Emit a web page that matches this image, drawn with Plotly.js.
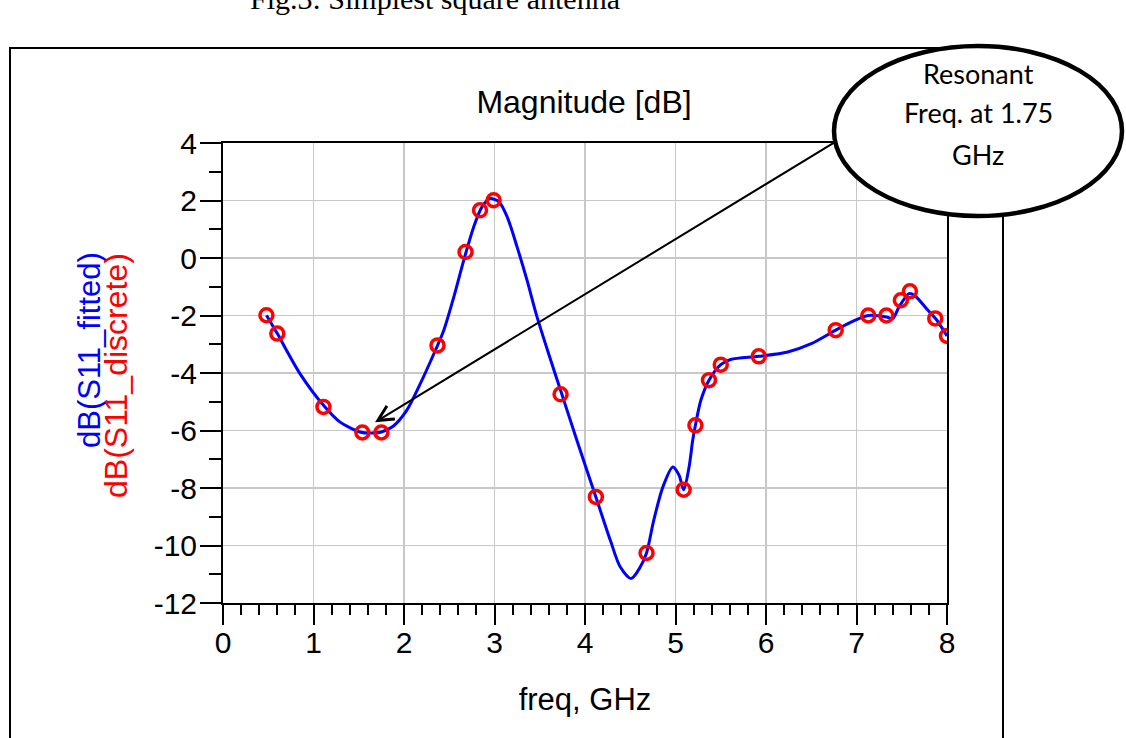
<!DOCTYPE html>
<html>
<head>
<meta charset="utf-8">
<script src="https://cdn.plot.ly/plotly-3.0.1.min.js"></script>
<style>
html,body{margin:0;padding:0;background:#fff;}
#chart{width:1126px;height:738px;}
</style>
</head>
<body>
<div id="chart"></div>
<script>
// ---- data ----
const fittedFreq = [0.48,0.6,0.85,1.12,1.29,1.51,1.64,1.75,1.88,2.03,2.18,2.33,2.44,2.55,2.66,2.77,2.86,2.95,3.05,3.14,3.25,3.36,3.47,3.6,3.73,3.91,4.12,4.28,4.39,4.51,4.61,4.68,4.76,4.86,4.97,5.04,5.09,5.15,5.19,5.22,5.28,5.37,5.5,5.61,5.92,6.24,6.5,6.77,6.98,7.13,7.33,7.4,7.47,7.58,7.64,7.79,7.88,8.0];
const fittedDB   = [-1.99,-2.63,-4.02,-5.16,-5.70,-6.05,-6.09,-6.05,-5.85,-5.30,-4.37,-3.33,-2.51,-1.36,-0.08,1.08,1.77,2.07,1.95,1.43,0.38,-0.78,-2.05,-3.35,-4.6,-6.34,-8.31,-9.82,-10.75,-11.15,-10.75,-10.26,-9.12,-7.97,-7.27,-7.56,-8.06,-7.27,-6.34,-5.82,-4.95,-4.25,-3.71,-3.53,-3.42,-3.27,-2.98,-2.51,-2.17,-2.0,-2.05,-2.11,-1.70,-1.24,-1.30,-1.82,-2.13,-2.71];
const discreteFreq = [0.48,0.6,1.11,1.54,1.75,2.37,2.68,2.84,2.99,3.73,4.12,4.68,5.09,5.22,5.37,5.5,5.92,6.77,7.13,7.33,7.49,7.59,7.87,8.0];
const discreteDB   = [-1.99,-2.63,-5.18,-6.07,-6.07,-3.04,0.21,1.66,2.01,-4.74,-8.31,-10.26,-8.06,-5.82,-4.25,-3.71,-3.42,-2.51,-2.0,-2.0,-1.47,-1.16,-2.1,-2.71];
const xTicks = [0,1,2,3,4,5,6,7,8];
const xTickText = ['0','1','2','3','4','5','6','7','8'];
const yTicks = [4,2,0,-2,-4,-6,-8,-10,-12];
const yTickText = ['4','2','0','-2','-4','-6','-8','-10','-12'];
const chartTitle = 'Magnitude [dB]';
const xTitle = 'freq, GHz';
const yTitleFitted = 'dB(S11_fitted)';
const yTitleDiscrete = 'dB(S11_discrete)';
const caption = 'Fig.3: Simplest square antenna';
const calloutLines = ['Resonant','Freq. at 1.75','GHz'];
const arrowTarget = {x:1.68, y:-5.71};

// ---- layout helpers (pixel -> paper) ----
const W=1126, H=738, PL=223, PR=947, PT=143, PB=603;
const px = p => (p-PL)/(PR-PL);
const py = p => (PB-p)/(PB-PT);
const FONT = 'Liberation Sans, Arial, sans-serif';

const traces = [
  {x: fittedFreq, y: fittedDB, type:'scatter', mode:'lines',
   line:{color:'#0000ff', width:3, shape:'spline', smoothing:0.8}, hoverinfo:'skip'},
  {x: discreteFreq, y: discreteDB, type:'scatter', mode:'markers',
   marker:{symbol:'circle-open', size:13, color:'#ff0000', line:{width:3.5, color:'#ff0000'}}}
];

const axisCommon = {
  showline:true, linecolor:'#000', linewidth:2, mirror:true,
  ticks:'outside', tickcolor:'#000', tickwidth:2,
  showgrid:true, gridcolor:'#c8c8c8', gridwidth:1.5, zeroline:false,
  tickfont:{family:FONT, size:30, color:'#000'}
};

const layout = {
  width:W, height:H, showlegend:false,
  paper_bgcolor:'#fff', plot_bgcolor:'#fff',
  margin:{l:PL, r:W-PR, t:PT, b:H-PB, pad:0},
  title:{text:chartTitle, font:{family:FONT, size:32, color:'#000'}, x:px(584), xref:'paper', xanchor:'center', y:1-102/H, yanchor:'middle'},
  xaxis:Object.assign({}, axisCommon, {
    range:[0,8], tickmode:'array', tickvals:xTicks, ticktext:xTickText, ticklen:20, ticklabelstandoff:-8,
    minor:{dtick:0.2, tick0:0, ticks:'outside', ticklen:10, tickcolor:'#000', tickwidth:2, showgrid:false},
    title:{text:xTitle, font:{family:FONT, size:31, color:'#000'}, standoff:30}
  }),
  yaxis:Object.assign({}, axisCommon, {
    range:[-12,4], tickmode:'array', tickvals:yTicks, ticktext:yTickText, ticklen:21, ticklabelstandoff:-3,
    minor:{dtick:1, tick0:0, ticks:'outside', ticklen:12, tickcolor:'#000', tickwidth:2, showgrid:false}
  }),
  shapes:[
    {type:'rect', xref:'paper', yref:'paper', x0:px(10), x1:px(1003), y0:py(760), y1:py(48),
     line:{color:'#000', width:2}, fillcolor:'rgba(0,0,0,0)', layer:'above'},
    {type:'circle', xref:'paper', yref:'paper', x0:px(834), x1:px(1122), y0:py(216), y1:py(46),
     line:{color:'#000', width:4.5}, fillcolor:'#fff', layer:'above'}
  ],
  annotations:[
    {text:'', x:arrowTarget.x, y:arrowTarget.y, xref:'x', yref:'y', showarrow:true,
     ax:463, ay:-282, arrowhead:5, arrowsize:1.5, arrowwidth:2, arrowcolor:'#000', standoff:0},
    {text:yTitleFitted, textangle:-90, xref:'paper', yref:'paper', x:px(89), y:py(350),
     xanchor:'center', yanchor:'middle', showarrow:false, font:{family:FONT, size:31, color:'#0000ff'}},
    {text:yTitleDiscrete, textangle:-90, xref:'paper', yref:'paper', x:px(116), y:py(375),
     xanchor:'center', yanchor:'middle', showarrow:false, font:{family:FONT, size:32, color:'#ff0000'}},
    {text:caption, xref:'paper', yref:'paper', x:px(248), y:py(17), xanchor:'left', yanchor:'bottom',
     showarrow:false, font:{family:'Liberation Serif, Times New Roman, serif', size:30, color:'#000'}},
    {text:calloutLines[0], xref:'paper', yref:'paper', x:px(978), y:py(73), xanchor:'center', yanchor:'middle',
     showarrow:false, font:{family:'Lato, sans-serif', size:27, color:'#000'}},
    {text:calloutLines[1], xref:'paper', yref:'paper', x:px(978), y:py(113), xanchor:'center', yanchor:'middle',
     showarrow:false, font:{family:'Lato, sans-serif', size:27, color:'#000'}},
    {text:calloutLines[2], xref:'paper', yref:'paper', x:px(978), y:py(155), xanchor:'center', yanchor:'middle',
     showarrow:false, font:{family:'Lato, sans-serif', size:27, color:'#000'}}
  ]
};

Plotly.newPlot('chart', traces, layout, {displayModeBar:false, staticPlot:true});
</script>
</body>
</html>
